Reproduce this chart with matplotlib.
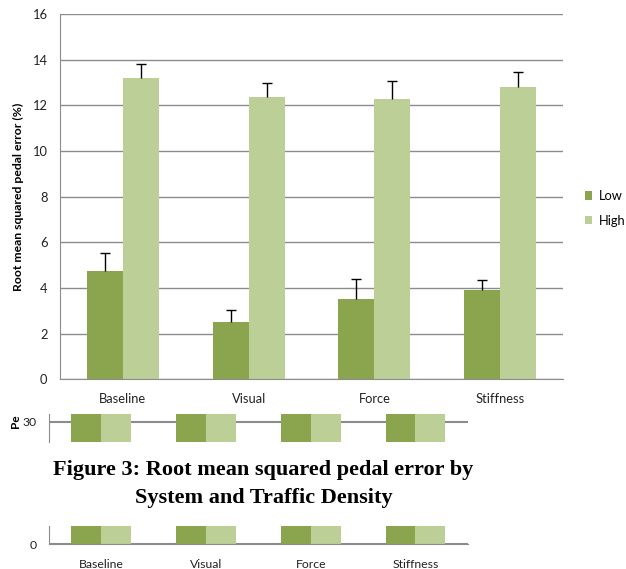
import numpy as np
import matplotlib.pyplot as plt

plt.rcParams['font.family'] = ['Lato', 'DejaVu Sans']

# data
systems = ['Baseline', 'Visual', 'Force', 'Stiffness']
low = [4.75, 2.5, 3.5, 3.9]
high = [13.2, 12.35, 12.3, 12.8]
low_err = [0.8, 0.55, 0.9, 0.45]
high_err = [0.6, 0.65, 0.75, 0.65]

# second (cropped) chart, bars run past the visible strips
low2 = [45, 44, 46, 45]
high2 = [48, 47, 47, 48]

c_low = '#8aa54e'
c_high = '#bbcf97'
c_grid = '#8c8c8c'

fig = plt.figure(figsize=(6.26, 5.69), dpi=100)

# main chart
ax = fig.add_axes([0.0958, 0.3335, 0.8035, 0.6418])
x = np.arange(len(systems))
w = 0.286
ax.bar(x - w / 2, low, w, color=c_low, label='Low', zorder=2)
ax.bar(x + w / 2, high, w, color=c_high, label='High', zorder=2)
# upper-only error bars with a cap on top
for xs, vals, errs in [(x - w / 2, low, low_err), (x + w / 2, high, high_err)]:
    tops = np.array(vals) + np.array(errs)
    ax.vlines(xs, vals, tops, color='black', linewidth=1, zorder=3)
    ax.plot(xs, tops, linestyle='none', marker='_', markersize=7,
            markeredgewidth=1, color='black', zorder=3)
ax.set_xlim(-0.5, 3.5)
ax.set_yticks(range(0, 17, 2))
ax.set_ylim(0, 16)
ax.set_xticks(x)
ax.set_xticklabels(systems)
ax.yaxis.grid(True, color=c_grid, linewidth=1, zorder=0)
ax.set_axisbelow(True)
for s in ['top', 'right']:
    ax.spines[s].set_visible(False)
for s in ['left', 'bottom']:
    ax.spines[s].set_color(c_grid)
ax.tick_params(length=0, labelsize=9.3, colors='#222222')
ax.tick_params(axis='x', pad=10)
ax.tick_params(axis='y', pad=9)
ax.set_ylabel('Root mean squared pedal error (%)', fontsize=8.8,
              fontweight='bold', labelpad=6)
ax.legend(loc='upper left', bbox_to_anchor=(1.02, 0.55), frameon=False,
          fontsize=9.3, handlelength=0.6, handleheight=0.6,
          handletextpad=0.5, labelspacing=1.0)


def strip(rect, lo, hi):
    a = fig.add_axes(rect)
    a.bar(x - w / 2, low2, w, color=c_low, zorder=2)
    a.bar(x + w / 2, high2, w, color=c_high, zorder=2)
    a.set_xlim(-0.5, 3.5)
    a.set_yticks(range(0, 60, 10))
    a.set_ylim(lo, hi)
    a.yaxis.grid(True, color=c_grid, linewidth=1.5, zorder=0)
    a.set_axisbelow(True)
    for s in ['top', 'right', 'bottom']:
        a.spines[s].set_visible(False)
    a.spines['left'].set_color(c_grid)
    a.tick_params(length=0, labelsize=8.8, colors='#222222', pad=9)
    return a


s1 = strip([0.0783, 0.2237, 0.669, 0.0487], 22.8, 32.8)
s1.set_xticks([])
fig.text(0.025, 0.26, 'Pe', rotation=90, fontsize=8.5, fontweight='bold',
         va='center', ha='center')

s3 = strip([0.0783, 0.0439, 0.669, 0.0316], 0, 6.5)
s3.spines['bottom'].set_visible(True)
s3.spines['bottom'].set_color(c_grid)
s3.set_xticks(x)
s3.set_xticklabels(systems)
s3.tick_params(axis='x', pad=11)

fig.text(0.421, 0.149, 'Figure 3: Root mean squared pedal error by\nSystem and Traffic Density',
         family='Liberation Serif', fontweight='bold', fontsize=16,
         ha='center', va='center', linespacing=1.5)

fig.savefig('out.png', dpi=100)
